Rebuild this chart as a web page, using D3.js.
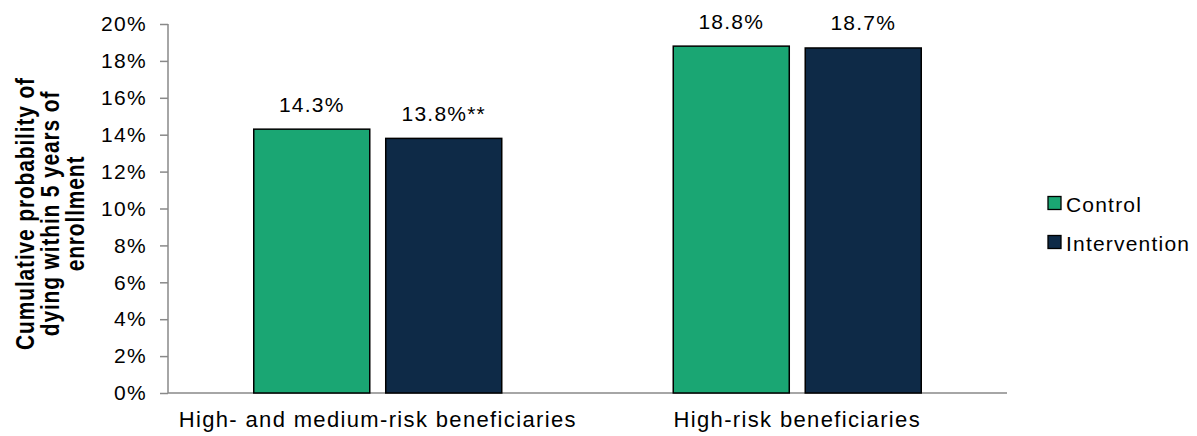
<!DOCTYPE html>
<html><head><meta charset="utf-8">
<script src="https://cdn.jsdelivr.net/npm/d3@7"></script>
<style>body{margin:0;background:#fff}text{font-family:Arial,"Liberation Sans",sans-serif}</style>
</head><body>
<svg id="c" width="1197" height="436"></svg>
<script>
const categories = ["High- and medium-risk beneficiaries", "High-risk beneficiaries"];
const seriesNames = ["Control", "Intervention"];
const controlValues = [14.3, 18.8];
const interventionValues = [13.8, 18.7];
const valueLabels = [["14.3%", "18.8%"], ["13.8%**", "18.7%"]];
const yTicks = [0, 2, 4, 6, 8, 10, 12, 14, 16, 18, 20];
const yTitle = ["Cumulative probability of", "dying within 5 years of", "enrollment"];
const colors = ["#1aa673", "#0e2a47"];

(function () {
const FONT = "Arial, 'Liberation Sans', sans-serif";
const svg = d3.select("#c");
const mLeft = 168, mRight = 1007, mTop = 24, mBottom = 393;
const x = d3.scaleBand().domain(categories).range([mLeft, mRight]).paddingInner(0).paddingOuter(0);
const y = d3.scaleLinear().domain([0, 20]).range([mBottom, mTop]);
const groupW = 248;
const xs = d3.scaleBand().domain(seriesNames).range([0, groupW]).paddingInner(0.121);

const series = [controlValues, interventionValues];

// y axis
const yAxis = d3.axisLeft(y).tickValues(yTicks).tickSize(8).tickFormat(d => d + "%");
const ga = svg.append("g").attr("transform", `translate(${mLeft},0)`).call(yAxis);
ga.selectAll("path,line").attr("stroke", "#898989").attr("stroke-width", 1.5);
ga.select(".domain").attr("d", `M0,${mTop}V${mBottom}`);
ga.selectAll("text").attr("font-size", 21).attr("fill", "#000").attr("x", -21)
  .style("letter-spacing", "1.3px").style("font-family", FONT);

// x axis
const gx = svg.append("g").attr("transform", `translate(0,${mBottom})`).call(d3.axisBottom(x).tickSize(0));
gx.select(".domain").attr("stroke", "#898989").attr("stroke-width", 1.5).attr("d", `M${mLeft},0H${mRight}`);
gx.selectAll("text").attr("font-size", 22).attr("fill", "#000").attr("y", 18).attr("dy", "0.71em")
  .style("letter-spacing", "1.35px").style("font-family", FONT);

// bars
series.forEach((vals, si) => {
  const g = svg.append("g");
  const bx = i => x(categories[i]) + (x.bandwidth() - groupW) / 2 + xs(seriesNames[si]);
  g.selectAll("rect").data(vals).join("rect")
    .attr("x", (d, i) => bx(i))
    .attr("y", d => y(d))
    .attr("width", xs.bandwidth())
    .attr("height", d => mBottom - y(d))
    .attr("fill", colors[si]).attr("stroke", "#000").attr("stroke-width", 1.5);
  g.selectAll("text").data(vals).join("text")
    .attr("x", (d, i) => bx(i) + xs.bandwidth() / 2)
    .attr("y", d => y(d) - 17.5)
    .attr("text-anchor", "middle").attr("font-size", 21).attr("fill", "#000")
    .style("letter-spacing", "1.2px")
    .text((d, i) => valueLabels[si][i]);
});

// y title (rotated, glyphs slightly widened like the reference)
const yl = svg.append("text").attr("transform", "translate(9,213.5) scale(1.22,1) rotate(-90)")
  .attr("text-anchor", "middle").attr("font-size", 21).attr("font-weight", "bold")
  .style("letter-spacing", "0.84px");
yTitle.forEach((t, i) => {
  yl.append("tspan").attr("x", 0).attr("y", (25 + i * 25) / 1.22).text(t);
});

// legend
const lg = svg.append("g");
seriesNames.forEach((n, i) => {
  lg.append("rect").attr("x", 1048).attr("y", 196.5 + i * 39).attr("width", 13).attr("height", 13)
    .attr("fill", colors[i]).attr("stroke", "#000").attr("stroke-width", 1.3);
  lg.append("text").attr("x", 1066).attr("y", 211.5 + i * 39).attr("font-size", 21)
    .style("letter-spacing", "1.2px").text(n);
});
})();
</script>
</body></html>
